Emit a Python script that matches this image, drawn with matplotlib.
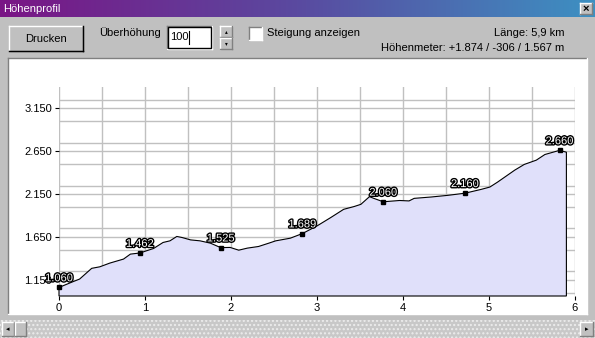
import numpy as np
import matplotlib
matplotlib.use("Agg")
import matplotlib.pyplot as plt
import matplotlib.patches as mpatches
import matplotlib.patheffects as pe
from matplotlib.colors import LinearSegmentedColormap
from matplotlib.ticker import FuncFormatter, MultipleLocator

plt.rcParams['font.family'] = ['Liberation Sans', 'DejaVu Sans']

# elevation profile (km, m)
dist_km = [0, 0.145, 0.24, 0.38, 0.475, 0.59, 0.75, 0.83, 0.94, 1.10, 1.21, 1.29,
           1.37, 1.43, 1.53, 1.64, 1.76, 1.88, 1.99, 2.09, 2.19, 2.32, 2.44, 2.52,
           2.69, 2.83, 3.00, 3.16, 3.31, 3.43, 3.51, 3.61, 3.66, 3.77, 3.96, 4.07,
           4.13, 4.33, 4.52, 4.72, 4.91, 5.01, 5.10, 5.30, 5.41, 5.55, 5.65, 5.82, 5.90]
elev_m = [1060, 1120, 1158, 1283, 1301, 1344, 1391, 1449, 1462, 1515, 1585, 1604,
          1655, 1643, 1615, 1604, 1577, 1525, 1527, 1495, 1519, 1538, 1577, 1604,
          1635, 1689, 1778, 1876, 1972, 2004, 2030, 2120, 2100, 2060, 2075, 2070,
          2100, 2116, 2135, 2160, 2205, 2232, 2290, 2430, 2496, 2546, 2612, 2660, 2639]

# labelled points
mark_km = [0, 0.94, 1.88, 2.83, 3.77, 4.72, 5.82]
mark_m = [1060, 1462, 1525, 1689, 2060, 2160, 2660]

x_ticks = [0, 1, 2, 3, 4, 5, 6]
y_ticks = [1150, 1650, 2150, 2650, 3150]
y_min, y_max = 960, 3400

title = "Höhenprofil"
length_text = "Länge: 5,9 km"
hm_text = "Höhenmeter: +1.874 / -306 / 1.567 m"

W, H = 595, 338
BG = '#c0c0c0'
fig = plt.figure(figsize=(W / 100, H / 100), dpi=100, facecolor=BG)

# dialog drawn in pixel coordinates
ui = fig.add_axes([0, 0, 1, 1])
ui.set_xlim(0, W)
ui.set_ylim(H, 0)
ui.axis('off')

grad = LinearSegmentedColormap.from_list('tb', ['#7a1585', '#5a4aa0', '#3d90c2'])
ui.imshow(np.linspace(0, 1, 256)[None, :], cmap=grad, aspect='auto',
          extent=[0, W, 17, 0], zorder=1)
ui.text(3, 8.5, title, color='white', fontsize=8, va='center', ha='left', zorder=2)


def bevel(x0, y0, x1, y1, face=BG, sunken=False, z=2):
    ui.add_patch(mpatches.Rectangle((x0, y0), x1 - x0, y1 - y0, facecolor=face,
                                    edgecolor='none', zorder=z))
    light, dark = ('#808080', 'white') if sunken else ('white', '#808080')
    ui.plot([x0, x1], [y0, y0], color=light, lw=1, zorder=z + 1)
    ui.plot([x0, x0], [y0, y1], color=light, lw=1, zorder=z + 1)
    ui.plot([x0, x1], [y1, y1], color=dark, lw=1, zorder=z + 1)
    ui.plot([x1, x1], [y0, y1], color=dark, lw=1, zorder=z + 1)


# close button
bevel(580, 3, 592, 14)
ui.text(586, 8.8, '×', fontsize=8, fontweight='bold', ha='center', va='center', zorder=5)

# Drucken button
bevel(9, 26, 83, 51)
ui.plot([83, 83], [26, 51], color='black', lw=1, zorder=4)
ui.plot([9, 83], [51, 51], color='black', lw=1, zorder=4)
ui.text(46, 38.5, 'Drucken', fontsize=8, ha='center', va='center', zorder=5)

ui.text(99, 33, 'Überhöhung', fontsize=8, ha='left', va='center', zorder=5)
bevel(167, 26, 212, 49, face='white', sunken=True)
ui.add_patch(mpatches.Rectangle((168, 27), 43, 21, facecolor='none',
                                edgecolor='black', lw=1, zorder=4))
ui.text(170, 37.5, '100', fontsize=8, ha='left', va='center', zorder=5)
ui.plot([189, 189], [31, 44], color='black', lw=0.8, zorder=5)
bevel(220, 26, 232, 37)
bevel(220, 38, 232, 49)
ui.text(226, 31.5, '▴', fontsize=4, ha='center', va='center', zorder=5)
ui.text(226, 43.5, '▾', fontsize=4, ha='center', va='center', zorder=5)

bevel(249, 27, 262, 40, face='white', sunken=True)
ui.text(267, 33.5, 'Steigung anzeigen', fontsize=8, ha='left', va='center', zorder=5)

ui.text(564, 33, length_text, fontsize=8, ha='right', va='center', zorder=5)
ui.text(564, 48, hm_text, fontsize=8, ha='right', va='center', zorder=5)

# white chart panel
bevel(8, 58, 587, 314, face='white', sunken=True)

# scrollbar (checkered track)
plt.rcParams['hatch.linewidth'] = 1.0
ui.add_patch(mpatches.Rectangle((0, 320), W, 18, facecolor='#c8c8c8', edgecolor='#ececec',
                                lw=0, hatch='....', zorder=2))
bevel(2, 322, 14, 336)
bevel(15, 322, 26, 336)
bevel(580, 322, 593, 336)
ui.text(8, 329.5, '◂', fontsize=5, ha='center', va='center', zorder=5)
ui.text(586.5, 329.5, '▸', fontsize=5, ha='center', va='center', zorder=5)

# profile axes: x 59..575 px, y 87..296 px
ax = fig.add_axes([59 / W, 1 - 296 / H, (575 - 59) / W, (296 - 87) / H])
ax.set_facecolor('white')
ax.set_xlim(0, 6)
ax.set_ylim(y_min, y_max)
for s in ax.spines.values():
    s.set_visible(False)

ax.xaxis.set_minor_locator(MultipleLocator(0.5))
ax.set_yticks(y_ticks)
ax.yaxis.set_minor_locator(MultipleLocator(250))
ax.grid(True, which='both', color='#c0c0c0', lw=1)
ax.set_axisbelow(True)
ax.set_xticks(x_ticks)
ax.tick_params(which='minor', length=0)
ax.tick_params(axis='both', which='major', length=3, width=0.8, color='black',
               labelsize=8, pad=2)
ax.yaxis.set_major_formatter(FuncFormatter(lambda v, p: f"{int(v):,}".replace(',', '.')))

poly_x = dist_km + [dist_km[-1], dist_km[0]]
poly_y = elev_m + [y_min, y_min]
ax.fill(poly_x, poly_y, facecolor='#e0e0fa', edgecolor='black', lw=0.8, zorder=3,
        clip_on=False)

ax.plot(mark_km, mark_m, 's', color='black', ms=3, zorder=4, clip_on=False)
for km, m in zip(mark_km, mark_m):
    ax.annotate(f"{m:,}".replace(',', '.'), (km, m), xytext=(0, 3),
                textcoords='offset points', ha='center', va='bottom', fontsize=8,
                color='white', zorder=5,
                path_effects=[pe.withStroke(linewidth=2, foreground='black')])

fig.savefig('out.png', dpi=100, facecolor=BG)
